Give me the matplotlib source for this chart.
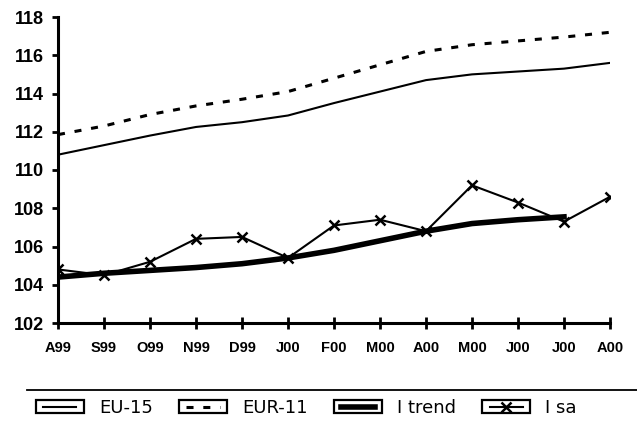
import matplotlib
matplotlib.use('Agg')
import matplotlib.pyplot as plt
from matplotlib.legend_handler import HandlerLine2D
from matplotlib.patches import Rectangle
from matplotlib.lines import Line2D

# Datos
meses = ['A99', 'S99', 'O99', 'N99', 'D99', 'J00', 'F00', 'M00', 'A00', 'M00', 'J00', 'J00', 'A00']
eu15 = [110.8, 111.3, 111.8, 112.25, 112.5, 112.85, 113.5, 114.1, 114.7, 115.0, 115.15, 115.3, 115.6]
eur11 = [111.85, 112.3, 112.9, 113.35, 113.7, 114.1, 114.8, 115.5, 116.2, 116.55, 116.75, 116.95, 117.2]
i_trend = [104.4, 104.6, 104.75, 104.9, 105.1, 105.4, 105.8, 106.3, 106.8, 107.2, 107.4, 107.55]
i_sa = [104.8, 104.5, 105.2, 106.4, 106.5, 105.4, 107.1, 107.4, 106.8, 109.2, 108.3, 107.3, 108.6]
y_ticks = [102, 104, 106, 108, 110, 112, 114, 116, 118]


class BoxHandler(HandlerLine2D):
    # dibuja un recuadro alrededor del símbolo de la leyenda
    def create_artists(self, legend, orig_handle, xdescent, ydescent, width, height, fontsize, trans):
        arts = super().create_artists(legend, orig_handle, xdescent, ydescent, width, height, fontsize, trans)
        px = 0.4 * fontsize
        rect = Rectangle((-xdescent - px, -ydescent - 0.5), width + 2 * px, height + 1,
                         fill=False, edgecolor='black', lw=1.6, transform=trans)
        return [rect] + list(arts)


fig = plt.figure(figsize=(6.37, 4.21), dpi=100)
ax = fig.add_axes([58 / 637, 1 - 323 / 421, (610 - 58) / 637, (323 - 17) / 421])

x = list(range(len(meses)))
l1, = ax.plot(x, eu15, color='black', lw=1.5)
l2, = ax.plot(x, eur11, color='black', lw=2.2, linestyle=(0, (2.3, 3.2)))
l3, = ax.plot(x[:len(i_trend)], i_trend, color='black', lw=4)
l4, = ax.plot(x, i_sa, color='black', lw=1.5, marker='x', markersize=7, markeredgewidth=1.8)

ax.set_xlim(0, len(meses) - 1)
ax.set_ylim(102, 118)
ax.set_xticks(x)
ax.set_xticklabels(meses, fontsize=10.5, fontweight='bold', family='Liberation Sans')
ax.set_yticks(y_ticks)
ax.set_yticklabels([str(v) for v in y_ticks], fontsize=13, fontweight='bold', family='Liberation Sans')
ax.tick_params(axis='y', direction='out', length=4, width=2, pad=6)
ax.tick_params(axis='x', direction='inout', length=8, width=2, pad=9)

for s in ['top', 'right']:
    ax.spines[s].set_visible(False)
for s in ['left', 'bottom']:
    ax.spines[s].set_linewidth(2.2)

# línea separadora sobre la leyenda
fig.add_artist(Line2D([27 / 637, 1], [1 - 390 / 421] * 2, transform=fig.transFigure, color='black', lw=1.3))

leg = fig.legend([l1, l2, l3, l4], ['EU-15', 'EUR-11', 'I trend', 'I sa'],
                 loc='center left', bbox_to_anchor=(43 / 637, 1 - 408 / 421), ncol=4,
                 frameon=False, borderpad=0, borderaxespad=0, handlelength=1.85, handleheight=0.6,
                 handletextpad=1.25, columnspacing=1.85,
                 prop={'family': 'DejaVu Sans', 'size': 13},
                 handler_map={Line2D: BoxHandler()})

fig.savefig('out.png', dpi=100)
